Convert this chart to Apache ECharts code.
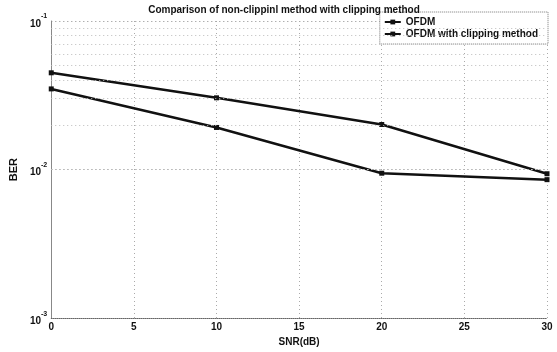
<!DOCTYPE html>
<html><head><meta charset="utf-8">
<script src="https://cdn.jsdelivr.net/npm/echarts@6/dist/echarts.min.js"></script>
<style>html,body{margin:0;padding:0;background:#fff}#c{width:557px;height:352px}</style>
</head><body><div id="c"></div>
<script>
const snr = [0, 10, 20, 30];
const berOFDM = [0.0349, 0.0192, 0.00945, 0.00855];
const berClip = [0.0448, 0.0304, 0.0201, 0.00937];
const minorGrid = [0.002,0.003,0.004,0.005,0.006,0.007,0.008,0.009,0.02,0.03,0.04,0.05,0.06,0.07,0.08,0.09];
const titleText = 'Comparison of non-clippinl method with clipping method';
const seriesNames = ['OFDM', 'OFDM with clipping method'];

const F = 'Liberation Sans, Arial, sans-serif';
const chart = echarts.init(document.getElementById('c'));
chart.setOption({
  animation: false,
  backgroundColor: '#fff',
  title: {text: titleText, left: 279, top: 0, textAlign: 'center',
    textStyle: {fontFamily: F, fontSize: 10, fontWeight: 'bold', color: '#111'}},
  legend: {
    data: seriesNames, orient: 'vertical', right: 9, top: 12,
    itemWidth: 16, itemHeight: 6, itemGap: 2, padding: [5, 10, 5, 4],
    borderColor: '#777', borderWidth: 1, borderType: 'dotted', backgroundColor: '#fff',
    textStyle: {fontFamily: F, fontSize: 10, fontWeight: 'bold', color: '#111'}
  },
  grid: {left: 48, right: 10, top: 21, bottom: 25, show: false},
  xAxis: {
    type: 'value', min: 0, max: 30, interval: 5,
    name: 'SNR(dB)', nameLocation: 'middle', nameGap: 15,
    nameTextStyle: {fontFamily: F, fontSize: 10, fontWeight: 'bold', color: '#111'},
    axisLine: {show: true, lineStyle: {color: '#666', width: 1, type: 'dotted'}},
    axisTick: {show: false},
    axisLabel: {fontFamily: F, fontSize: 10, fontWeight: 'bold', color: '#111', margin: 4},
    splitLine: {show: true, lineStyle: {color: '#aaa', type: [1, 3], width: 1}}
  },
  yAxis: {
    type: 'log', logBase: 10, min: 0.001, max: 0.1,
    name: 'BER', nameLocation: 'middle', nameGap: 32, nameRotate: 90,
    nameTextStyle: {fontFamily: F, fontSize: 11, fontWeight: 'bold', color: '#111'},
    axisLine: {show: true, lineStyle: {color: '#888', width: 1}},
    axisTick: {show: false},
    axisLabel: {
      margin: 4,
      formatter: function (v) {
        const k = Math.round(Math.log10(v));
        return '{b|10}{s|' + k + '}';
      },
      rich: {
        b: {fontFamily: F, fontSize: 10, fontWeight: 'bold', color: '#111', verticalAlign: 'bottom', padding: [6, 0, 0, 0]},
        s: {fontFamily: F, fontSize: 7, fontWeight: 'bold', color: '#111', verticalAlign: 'top'}
      }
    },
    splitLine: {show: true, lineStyle: {color: '#aaa', type: [1, 3], width: 1}}
  },
  series: [
    {
      name: seriesNames[0], type: 'line',
      data: snr.map((x, i) => [x, berOFDM[i]]),
      symbol: 'rect', symbolSize: 5,
      lineStyle: {color: '#111', width: 2.5}, itemStyle: {color: '#111'},
      markLine: {
        silent: true, symbol: 'none', label: {show: false},
        lineStyle: {color: '#bbb', type: [1, 3], width: 1},
        data: minorGrid.map(v => ({yAxis: v}))
      },
      z: 3
    },
    {
      name: seriesNames[1], type: 'line',
      data: snr.map((x, i) => [x, berClip[i]]),
      symbol: 'rect', symbolSize: 5,
      lineStyle: {color: '#111', width: 2.5}, itemStyle: {color: '#111'},
      z: 3
    }
  ]
});
</script></body></html>
